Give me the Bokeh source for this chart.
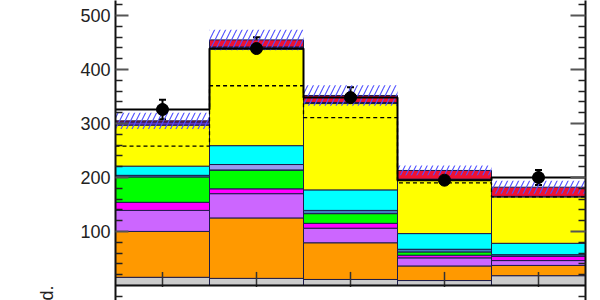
import numpy as np
from bokeh.plotting import figure
from bokeh.models import (ColumnDataSource, FixedTicker, LinearAxis, Span,
                          Whisker, TeeHead, Title)
from bokeh.embed import file_html
from bokeh.resources import INLINE

# ---- data ----
bin_lo = [0, 1, 2, 3, 4]
bin_hi = [1, 2, 3, 4, 5]

grey     = [15, 13, 11, 9, 18]
orange   = [85, 112, 68, 27, 19]
lilac    = [39, 45, 27, 15, 9]
magenta  = [15, 9, 9, 5, 8]
green    = [47, 35, 18, 6, 0]
steel    = [3, 0, 6, 5, 3]
lavender = [0, 10, 0, 0, 0]
cyan     = [17, 35, 38, 29, 21]
yellow   = [76, 179, 160, 100, 86]
purple   = [6, 4, 2, 1, 1]
red      = [2, 13, 13, 16, 17]
unc      = [15, 19, 19, 9, 12]

data     = [326, 439, 348, 195, 200]
data_err = [18, 21, 19, 14, 14]
dashed   = [258, 370, 311, 190, 164]

y_major = [100, 200, 300, 400, 500]
y_minor = [-20, 20, 40, 60, 80, 120, 140, 160, 180, 220, 240, 260, 280,
           320, 340, 360, 380, 420, 440, 460, 480, 520]

layer_names = ["grey", "orange", "lilac", "magenta", "green", "steel",
               "lavender", "cyan", "yellow", "purple", "red"]
layer_vals = [grey, orange, lilac, magenta, green, steel, lavender, cyan,
              yellow, purple, red]
layer_colors = ["#cccccc", "#ff9900", "#cc66ff", "#ff00ff", "#00ff00",
                "#4080c0", "#9999ee", "#00ffff", "#ffff00", "#6633bb",
                "#ee1133"]

# ---- derived ----
lo = np.array(bin_lo, dtype=float)
hi = np.array(bin_hi, dtype=float)
centers = (lo + hi) / 2
width = hi - lo

src = dict(x=centers, w=width)
for n, v in zip(layer_names, layer_vals):
    src[n] = v
source = ColumnDataSource(src)

total = np.sum(np.array(layer_vals, dtype=float), axis=0)
u = np.array(unc, dtype=float)

step_x = np.column_stack([lo, hi]).ravel()
data_y = np.repeat(np.array(data, dtype=float), 2)
dash_y = np.repeat(np.array(dashed, dtype=float), 2)

p = figure(width=600, height=300, x_range=(0, 5), y_range=(-28, 528),
           output_backend="svg", toolbar_location=None,
           x_axis_location=None, y_axis_location="left",
           min_border_left=115, min_border_right=15,
           min_border_top=0, min_border_bottom=0)
p.outline_line_color = None
p.xgrid.visible = False
p.ygrid.visible = False
p.background_fill_color = "white"

p.vbar_stack(layer_names, x="x", width="w", source=source,
             fill_color=layer_colors, line_color="#1c1c4c", line_width=1)

# uncertainty band (hatched)
p.quad(left=lo, right=hi, bottom=total - u, top=total + u,
       fill_color=None, line_color=None,
       hatch_pattern="/", hatch_color="#5050ff", hatch_scale=11,
       hatch_weight=1.1)

# dashed histogram
p.line(step_x, dash_y, line_color="black", line_width=1.3, line_dash="4 3")

# data histogram line
p.line(step_x, data_y, line_color="black", line_width=2)

# data points with errors
err_src = ColumnDataSource(dict(
    x=centers,
    y=data,
    upper=np.array(data) + np.array(data_err),
    lower=np.array(data) - np.array(data_err)))
p.add_layout(Whisker(base="x", upper="upper", lower="lower", source=err_src,
                     line_color="black", line_width=2,
                     upper_head=TeeHead(size=7, line_width=2, line_color="black"),
                     lower_head=TeeHead(size=7, line_width=2, line_color="black")))
p.scatter("x", "y", source=err_src, size=12, color="black")

# x ticks at bin centres
p.segment(x0=centers, y0=-3, x1=centers, y1=25, line_color="#333333",
          line_width=1.5)

# pad boundary
p.add_layout(Span(location=0, dimension="width", line_color="#111111",
                  line_width=2))

# left axis
ya = p.yaxis[0]
ya.ticker = FixedTicker(ticks=y_major, minor_ticks=y_minor)
ya.major_tick_in = 13
ya.major_tick_out = 0
ya.minor_tick_in = 7
ya.minor_tick_out = 0
ya.major_tick_line_width = 2
ya.major_tick_line_color = "#555555"
ya.minor_tick_line_width = 1.5
ya.minor_tick_line_color = "#222222"
ya.axis_line_width = 2
ya.axis_line_color = "#111111"
ya.major_label_standoff = 5
ya.major_label_text_font = "Liberation Sans"
ya.major_label_text_font_size = "18px"
ya.major_label_text_color = "#222222"

# right axis (no labels)
ra = LinearAxis(ticker=FixedTicker(ticks=y_major, minor_ticks=y_minor),
                major_tick_in=15, major_tick_out=0,
                minor_tick_in=7, minor_tick_out=0,
                major_tick_line_width=2, major_tick_line_color="#555555",
                minor_tick_line_width=1.5, minor_tick_line_color="#222222",
                axis_line_width=2, axis_line_color="#111111",
                major_label_overrides={t: "" for t in y_major},
                major_label_text_font_size="1px", major_label_standoff=0)
p.add_layout(ra, "right")

# ratio-pad title fragment (only its end is inside the picture)
p.add_layout(Title(text="d.", align="left", text_font="Liberation Sans",
                   text_font_size="18px", text_font_style="normal",
                   text_color="#222222", standoff=41), "left")

open("out.html", "w").write(file_html(p, INLINE))
